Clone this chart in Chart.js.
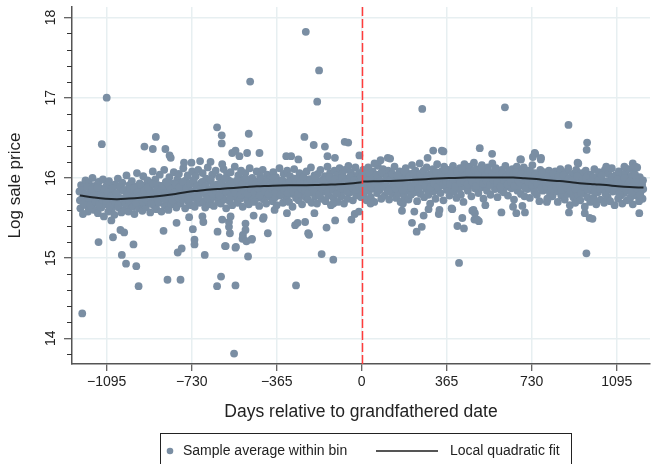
<!DOCTYPE html>
<html>
<head>
<meta charset="utf-8">
<script src="https://cdn.jsdelivr.net/npm/chart.js@4/dist/chart.umd.min.js"></script>
<style>
  html, body { margin: 0; padding: 0; background: #fff; }
  #wrap { width: 654px; height: 464px; }
</style>
</head>
<body>
<div id="wrap"><canvas id="chart" width="654" height="464"></canvas></div>
<script>
// tick labels
const xTicks = [-1095, -730, -365, 0, 365, 730, 1095];
const yTicks = [14, 15, 16, 17, 18];
const yMinorTicks = [13.8, 14.2, 14.4, 14.6, 14.8, 15.2, 15.4, 15.6, 15.8, 16.2, 16.4, 16.6, 16.8, 17.2, 17.4, 17.6, 17.8];

// bin averages before the grandfathered date (days, log price)
const preBinDays = [
  -1212,-1208,-1205,-1201,-1197,-1193,-1190,-1186,-1182,-1178,
  -1175,-1171,-1167,-1163,-1160,-1156,-1152,-1148,-1145,-1141,
  -1137,-1133,-1130,-1126,-1122,-1118,-1115,-1111,-1107,-1103,
  -1100,-1096,-1092,-1088,-1085,-1081,-1077,-1073,-1070,-1066,
  -1062,-1058,-1055,-1051,-1047,-1043,-1040,-1036,-1032,-1028,
  -1025,-1021,-1017,-1013,-1010,-1006,-1002,-998,-995,-991,
  -987,-983,-980,-976,-972,-968,-965,-961,-957,-953,
  -950,-946,-942,-938,-935,-931,-927,-923,-920,-916,
  -912,-908,-905,-901,-897,-893,-890,-886,-882,-878,
  -875,-871,-867,-863,-860,-856,-852,-848,-845,-841,
  -837,-833,-830,-826,-822,-818,-815,-811,-807,-803,
  -800,-796,-792,-788,-785,-781,-777,-773,-770,-766,
  -762,-758,-755,-751,-747,-743,-740,-736,-732,-728,
  -725,-721,-717,-713,-710,-706,-702,-698,-695,-691,
  -687,-683,-680,-676,-672,-668,-665,-661,-657,-653,
  -650,-646,-642,-638,-635,-631,-627,-623,-620,-616,
  -612,-608,-605,-601,-597,-593,-590,-586,-582,-578,
  -575,-571,-567,-563,-560,-556,-552,-548,-545,-541,
  -537,-533,-530,-526,-522,-518,-515,-511,-507,-503,
  -500,-496,-492,-488,-485,-481,-477,-473,-470,-466,
  -462,-458,-455,-451,-447,-443,-440,-436,-432,-428,
  -425,-421,-417,-413,-410,-406,-402,-398,-395,-391,
  -387,-383,-380,-376,-372,-368,-365,-361,-357,-353,
  -350,-346,-342,-338,-335,-331,-327,-323,-320,-316,
  -312,-308,-305,-301,-297,-293,-290,-286,-282,-278,
  -275,-271,-267,-263,-260,-256,-252,-248,-245,-241,
  -237,-233,-230,-226,-222,-218,-215,-211,-207,-203,
  -200,-196,-192,-188,-185,-181,-177,-173,-170,-166,
  -162,-158,-155,-151,-147,-143,-140,-136,-132,-128,
  -125,-121,-117,-113,-110,-106,-102,-98,-95,-91,
  -87,-83,-80,-76,-72,-68,-65,-61,-57,-53,
  -50,-46,-42,-38,-35,-31,-27,-23,-20,-16,
  -12,-8,-5,-2
];
const preBinPrice = [
  15.83,15.62,15.91,15.74,15.55,15.88,15.70,15.97,15.66,15.79,
  15.58,15.93,15.71,15.84,15.64,16.00,15.77,15.60,15.90,15.69,
  15.81,15.56,15.95,15.73,15.87,15.63,15.78,15.98,15.52,15.85,
  15.67,15.90,15.74,15.58,15.96,15.70,15.83,15.61,15.88,15.76,
  15.54,15.92,15.68,15.80,15.99,15.63,15.75,15.87,15.57,15.94,
  15.72,15.60,15.85,15.69,16.03,15.78,15.58,15.91,15.66,15.82,
  15.96,15.64,15.76,15.55,15.89,15.71,16.06,15.80,15.62,15.93,
  15.68,15.84,15.59,16.02,15.75,15.90,15.63,15.79,15.97,15.70,
  15.86,15.57,15.94,15.73,16.08,15.66,15.82,15.98,15.61,15.77,
  15.91,15.69,16.04,15.80,15.58,15.87,15.74,16.10,15.65,15.95,
  15.72,15.88,15.60,16.01,15.79,15.67,15.93,15.84,16.07,15.70,
  15.89,15.63,15.98,15.76,16.05,15.82,15.68,15.94,15.73,16.12,
  15.85,15.62,15.97,15.78,16.03,15.70,15.91,15.83,15.66,16.08,
  15.75,15.95,15.64,16.02,15.87,15.72,16.10,15.80,15.69,15.93,
  15.84,16.06,15.71,15.90,15.63,15.99,15.78,16.13,15.86,15.67,
  15.96,15.74,16.04,15.88,15.65,15.82,16.09,15.77,15.92,15.70,
  16.01,15.85,15.68,15.95,15.79,16.11,15.73,15.89,15.62,16.05,
  15.83,15.97,15.71,16.07,15.88,15.66,15.93,15.80,16.14,15.76,
  15.91,15.69,16.03,15.84,15.74,16.09,15.87,15.64,15.98,15.79,
  16.06,15.82,15.72,15.94,15.67,16.12,15.86,15.77,16.00,15.90,
  15.70,15.96,15.83,16.08,15.75,15.92,15.65,16.02,15.87,15.79,
  16.10,15.73,15.95,15.84,15.68,16.04,15.90,15.77,15.99,15.81,
  15.93,15.71,16.07,15.86,15.76,16.01,15.66,15.92,15.83,16.12,
  15.78,15.97,15.88,15.69,16.05,15.82,15.94,15.74,16.09,15.87,
  15.70,16.02,15.91,15.80,15.64,15.96,16.11,15.85,15.75,15.99,
  15.88,15.72,16.06,15.93,15.79,15.67,16.01,15.84,15.96,15.76,
  16.08,15.89,15.73,15.98,15.82,16.13,15.69,15.92,15.86,16.03,
  15.77,15.95,15.68,16.05,15.87,15.80,16.10,15.74,15.97,15.90,
  15.83,16.02,15.71,15.94,16.14,15.78,15.88,16.06,15.66,15.99,
  15.86,15.75,16.09,15.92,15.81,16.03,15.70,15.96,16.12,15.84,
  15.77,16.05,15.93,15.68,16.10,15.88,15.99,15.74,16.15,15.90,
  15.82,16.07,15.95,15.72,16.02,15.86,16.13,15.78,15.97,15.91,
  16.06,15.84,15.99,15.76
];
// densest part of the band, pre cutoff
const preCoreDays = [
  -1210,-1203,-1195,-1188,-1180,-1173,-1165,-1158,-1150,-1143,
  -1135,-1128,-1120,-1113,-1105,-1098,-1090,-1083,-1075,-1068,
  -1060,-1053,-1045,-1038,-1030,-1023,-1015,-1008,-1000,-993,
  -985,-978,-970,-963,-955,-948,-940,-933,-925,-918,
  -910,-903,-895,-888,-880,-873,-865,-858,-850,-843,
  -835,-828,-820,-813,-805,-798,-790,-783,-775,-768,
  -760,-753,-745,-738,-730,-723,-715,-708,-700,-693,
  -685,-678,-670,-663,-655,-648,-640,-633,-625,-618,
  -610,-603,-595,-588,-580,-573,-565,-558,-550,-543,
  -535,-528,-520,-513,-505,-498,-490,-483,-475,-468,
  -460,-453,-445,-438,-430,-423,-415,-408,-400,-393,
  -385,-378,-370,-363,-355,-348,-340,-333,-325,-318,
  -310,-303,-295,-288,-280,-273,-265,-258,-250,-243,
  -235,-228,-220,-213,-205,-198,-190,-183,-175,-168,
  -160,-153,-145,-138,-130,-123,-115,-108,-100,-93,
  -85,-78,-70,-63,-55,-48,-40,-33,-25,-18,
  -10,-4
];
const preCorePrice = [
  15.72,15.84,15.68,15.80,15.89,15.75,15.66,15.86,15.78,15.70,
  15.88,15.67,15.79,15.73,15.85,15.71,15.82,15.64,15.77,15.87,
  15.70,15.81,15.66,15.89,15.74,15.84,15.68,15.79,15.72,15.86,
  15.75,15.87,15.69,15.82,15.77,15.91,15.70,15.84,15.73,15.88,
  15.80,15.68,15.92,15.76,15.85,15.71,15.83,15.90,15.74,15.81,
  15.94,15.77,15.86,15.72,15.82,15.92,15.76,15.88,15.80,15.95,
  15.78,15.87,15.74,15.93,15.83,15.97,15.79,15.89,15.76,15.86,
  15.95,15.81,15.90,15.75,15.85,15.98,15.80,15.91,15.83,15.88,
  15.78,15.93,15.85,15.99,15.82,15.90,15.76,15.95,15.86,15.81,
  15.97,15.88,15.79,15.92,15.84,15.99,15.80,15.90,15.86,15.95,
  15.82,15.93,15.87,15.78,15.98,15.89,15.83,15.95,15.80,15.91,
  15.86,16.00,15.82,15.94,15.89,15.79,15.97,15.85,15.92,15.81,
  15.96,15.87,15.83,15.99,15.90,15.80,15.94,15.86,16.01,15.84,
  15.93,15.81,15.98,15.88,15.84,16.00,15.91,15.79,15.95,15.86,
  15.97,15.89,15.82,16.01,15.92,15.85,15.98,15.80,15.93,15.88,
  16.00,15.86,15.95,15.83,15.91,16.02,15.88,15.97,15.85,15.93,
  15.89,16.01
];
const preOutDays = [
  -1200,-1095,-1116,-1130,-1068,-1030,-1012,-968,-958,-980,
  -1036,-1020,-1075,-884,-933,-897,-843,-825,-820,-851,
  -834,-778,-790,-773,-718,-718,-674,-763,-731,-694,
  -649,-621,-621,-725,-680,-619,-601,-601,-485,-439,
  -599,-556,-542,-525,-492,-604,-587,-542,-488,-570,
  -566,-510,-510,-499,-471,-684,-741,-795,-599,-563,
  -464,-421,-240,-183,-191,-479,-246,-206,-158,-73,
  -58,-10,-272,-303,-324,-147,-115,-172,-122,-282,
  -542,-548,-584,-540,-512,-495,-473,-230,-226,-403,
  -151,-570,-499,-424,-286,-275,-243,-203,-114,-44,
  -30,-374,-321,-122,-12
];
const preOutPrice = [
  14.31,17.00,16.42,15.20,15.26,15.04,14.93,14.90,14.65,15.17,
  15.35,15.32,15.47,16.51,16.39,16.36,16.36,16.28,16.25,15.34,
  14.73,14.73,15.07,15.12,15.17,15.23,15.04,16.19,16.19,16.21,
  16.20,16.63,14.65,15.36,15.45,15.33,16.53,16.43,16.55,16.31,
  16.17,16.31,16.34,16.27,16.31,14.77,15.15,15.13,15.02,15.39,
  15.31,15.25,15.29,15.43,15.24,15.52,15.51,15.44,15.48,15.52,
  15.53,15.51,17.82,17.34,16.95,17.20,16.51,16.41,16.39,16.45,
  16.44,16.28,16.23,16.27,16.27,16.27,16.25,15.05,14.98,14.66,
  14.66,13.81,15.15,15.14,15.24,15.21,15.23,15.31,15.29,15.31,
  15.38,15.45,15.35,15.49,15.41,15.44,15.45,15.56,15.47,15.48,
  15.55,15.60,15.56,15.68,15.58
];

// bin averages after the grandfathered date
const postBinDays = [
  2,6,9,13,17,21,24,28,32,36,
  39,43,47,51,54,58,62,66,69,73,
  77,81,84,88,92,96,99,103,107,111,
  114,118,122,126,129,133,137,141,144,148,
  152,156,159,163,167,171,174,178,182,186,
  189,193,197,201,204,208,212,216,219,223,
  227,231,234,238,242,246,249,253,257,261,
  264,268,272,276,279,283,287,291,294,298,
  302,306,309,313,317,321,324,328,332,336,
  339,343,347,351,354,358,362,366,369,373,
  377,381,384,388,392,396,399,403,407,411,
  414,418,422,426,429,433,437,441,444,448,
  452,456,459,463,467,471,474,478,482,486,
  489,493,497,501,504,508,512,516,519,523,
  527,531,534,538,542,546,549,553,557,561,
  564,568,572,576,579,583,587,591,594,598,
  602,606,609,613,617,621,624,628,632,636,
  639,643,647,651,654,658,662,666,669,673,
  677,681,684,688,692,696,699,703,707,711,
  714,718,722,726,729,733,737,741,744,748,
  752,756,759,763,767,771,774,778,782,786,
  789,793,797,801,804,808,812,816,819,823,
  827,831,834,838,842,846,849,853,857,861,
  864,868,872,876,879,883,887,891,894,898,
  902,906,909,913,917,921,924,928,932,936,
  939,943,947,951,954,958,962,966,969,973,
  977,981,984,988,992,996,999,1003,1007,1011,
  1014,1018,1022,1026,1029,1033,1037,1041,1044,1048,
  1052,1056,1059,1063,1067,1071,1074,1078,1082,1086,
  1089,1093,1097,1101,1104,1108,1112,1116,1119,1123,
  1127,1131,1134,1138,1142,1146,1149,1153,1157,1161,
  1164,1168,1172,1176,1179,1183,1187,1191,1194,1198,
  1202,1206,1209
];
const postBinPrice = [
  15.88,16.10,15.79,15.97,16.04,15.72,15.93,16.13,15.84,16.01,
  15.76,15.95,16.08,15.87,15.70,16.02,15.91,15.81,16.15,15.98,
  15.85,16.05,15.74,15.94,16.11,15.89,15.78,16.03,15.96,15.83,
  16.09,15.73,15.99,15.88,16.06,15.80,15.93,16.14,15.86,15.75,
  16.01,15.92,15.81,16.08,15.70,15.97,15.88,16.04,15.77,15.95,
  16.12,15.84,15.98,15.73,16.05,15.90,15.79,16.16,15.87,16.00,
  15.82,16.09,15.94,15.71,16.03,15.88,16.18,15.80,15.97,15.91,
  16.07,15.76,16.01,15.86,16.13,15.93,15.79,16.04,15.68,15.98,
  15.89,16.11,15.83,16.02,15.74,15.96,16.17,15.87,16.06,15.92,
  15.81,16.08,15.97,15.72,16.14,15.90,16.03,15.85,15.95,16.10,
  15.78,15.99,16.07,15.88,16.15,15.83,16.02,15.93,15.75,16.09,
  15.96,15.86,16.12,15.79,16.05,15.94,15.70,16.17,15.89,16.01,
  16.08,15.84,15.98,16.14,15.91,15.77,16.04,15.96,16.19,15.87,
  16.02,15.93,16.11,15.81,16.06,15.97,15.88,16.16,16.00,15.74,
  16.09,15.90,16.03,15.84,16.13,15.95,16.06,15.79,15.99,16.18,
  15.92,16.05,15.86,16.12,15.97,15.76,16.08,15.94,16.02,15.85,
  16.10,15.96,15.82,16.04,16.15,15.89,16.00,15.78,16.07,15.93,
  16.03,15.87,16.11,15.95,15.73,16.06,15.91,16.14,15.84,15.99,
  15.90,16.08,15.80,16.01,15.94,16.13,15.77,15.97,16.05,15.86,
  16.09,15.92,15.75,16.02,15.88,16.16,15.96,15.83,16.06,15.91,
  15.79,16.04,15.94,15.71,16.10,15.89,16.00,15.84,16.07,15.96,
  15.86,16.03,15.74,15.97,16.09,15.81,15.93,16.05,15.77,15.99,
  15.90,16.08,15.83,15.96,15.70,16.04,15.87,16.11,15.78,15.94,
  16.02,15.85,15.73,16.07,15.91,15.80,16.12,15.88,15.66,15.98,
  15.83,16.05,15.76,15.95,15.69,16.10,15.87,15.79,16.01,15.92,
  15.72,16.06,15.89,15.81,15.97,15.64,16.09,15.86,15.76,16.03,
  15.91,15.70,16.04,15.84,15.96,15.75,16.11,15.88,15.67,15.99,
  15.82,16.07,15.90,15.73,16.02,15.86,15.95,15.69,16.10,15.80,
  15.93,15.76,16.05,15.87,15.71,15.98,16.12,15.83,15.91,15.66,
  16.03,15.85,15.94,15.74,16.08,15.89,15.78,16.00,15.68,15.92,
  15.81,16.06,15.87,15.72,15.97,16.11,15.84,15.75,16.02,15.90,
  15.67,16.09,15.86,15.96,15.78,16.13,15.88,15.71,16.01,15.83,
  15.93,15.74,15.86
];
// densest part of the band, post cutoff
const postCoreDays = [
  4,11,19,26,34,41,49,56,64,71,
  79,86,94,101,109,116,124,131,139,146,
  154,161,169,176,184,191,199,206,214,221,
  229,236,244,251,259,266,274,281,289,296,
  304,311,319,326,334,341,349,356,364,371,
  379,386,394,401,409,416,424,431,439,446,
  454,461,469,476,484,491,499,506,514,521,
  529,536,544,551,559,566,574,581,589,596,
  604,611,619,626,634,641,649,656,664,671,
  679,686,694,701,709,716,724,731,739,746,
  754,761,769,776,784,791,799,806,814,821,
  829,836,844,851,859,866,874,881,889,896,
  904,911,919,926,934,941,949,956,964,971,
  979,986,994,1001,1009,1016,1024,1031,1039,1046,
  1054,1061,1069,1076,1084,1091,1099,1106,1114,1121,
  1129,1136,1144,1151,1159,1166,1174,1181,1189,1196,
  1204,1208
];
const postCorePrice = [
  15.90,16.02,15.85,15.97,16.06,15.88,15.99,15.93,16.04,15.86,
  15.96,16.07,15.89,15.94,16.01,15.84,15.98,16.05,15.91,15.87,
  16.03,15.92,15.97,15.85,16.08,15.90,15.96,16.02,15.88,16.06,
  15.93,15.99,15.87,16.05,15.95,16.09,15.90,15.98,16.03,15.88,
  16.00,15.93,16.07,15.89,15.97,16.04,15.91,16.10,15.95,16.01,
  15.92,16.06,15.98,15.89,16.08,16.00,15.94,16.11,15.96,16.03,
  15.92,16.07,16.00,15.95,16.10,15.90,16.04,15.97,16.12,15.93,
  16.01,15.96,16.08,15.91,16.05,15.98,16.11,15.94,16.03,15.89,
  16.06,15.97,16.01,15.92,16.09,15.95,16.03,15.90,16.07,15.98,
  15.94,16.05,15.99,15.88,16.03,15.95,16.08,15.91,15.98,16.04,
  15.92,16.00,15.87,16.06,15.95,15.90,16.02,15.93,15.86,16.05,
  15.96,15.89,16.01,15.92,15.85,16.03,15.94,15.88,15.99,15.84,
  15.97,15.90,15.86,16.02,15.93,15.81,15.98,15.89,16.00,15.85,
  15.94,15.88,16.01,15.83,15.92,15.97,15.86,16.03,15.90,15.81,
  15.96,15.87,15.93,16.01,15.84,15.91,15.98,15.80,15.94,15.88,
  16.00,15.85,15.92,15.96,15.82,15.90,16.04,15.87,15.95,15.79,
  15.91,15.97
];
const postOutDays = [
  260,615,307,344,351,283,507,560,112,122,
  81,55,418,216,236,258,411,439,432,484,
  503,475,486,600,664,173,226,266,331,334,
  389,888,968,966,965,681,735,745,770,927,
  1128,1164,1168,701,795,890,958,979,991,1192,
  994,743,684,769,531,480,496,650,690,798,
  177,386,38,1050,1175,930,287
];
const postOutPrice = [
  16.86,16.88,16.34,16.34,16.33,16.25,16.37,16.30,16.25,16.24,
  16.22,16.18,14.94,15.44,15.33,15.39,15.40,15.37,15.50,15.48,
  15.46,15.59,15.56,15.57,15.56,15.59,15.58,15.53,15.55,15.60,
  15.61,16.66,16.44,16.35,15.06,16.23,16.26,16.30,16.25,16.19,
  16.14,16.18,16.13,15.57,15.70,15.57,15.56,15.50,15.49,15.56,
  15.73,16.31,16.23,16.23,15.66,15.60,15.48,15.64,15.65,15.73,
  15.68,15.62,15.68,16.14,16.14,16.18,15.61
];

// local quadratic fit, each side of the cutoff
const fitPreDays = [-1210,-1150,-1100,-1050,-1000,-950,-900,-850,-800,-750,-700,-650,-600,-550,-500,-450,-400,-350,-300,-250,-200,-150,-100,-50,0];
const fitPrePrice = [15.78,15.755,15.74,15.735,15.742,15.752,15.765,15.78,15.80,15.825,15.84,15.855,15.865,15.875,15.885,15.895,15.90,15.905,15.907,15.908,15.91,15.915,15.92,15.93,15.945];
const fitPostDays = [0,50,100,150,200,250,300,350,400,450,500,550,600,650,700,750,800,850,900,950,1000,1050,1100,1150,1210];
const fitPostPrice = [15.955,15.957,15.96,15.965,15.972,15.98,15.988,15.995,16.0,16.004,16.006,16.006,16.005,16.004,15.995,15.985,15.97,15.96,15.945,15.93,15.92,15.91,15.895,15.885,15.88];

const dotColor = '#7a8ea3';
const fitColor = '#1f262c';
const textColor = '#222';
const gridColor = '#e7eff1';
const fontFamily = '"Liberation Sans", Arial, Helvetica, sans-serif';

function pairs(xs, ys) {
  return xs.map((x, i) => ({x: x, y: ys[i]}));
}

const binPoints = pairs(preBinDays, preBinPrice)
  .concat(pairs(preCoreDays, preCorePrice))
  .concat(pairs(preOutDays, preOutPrice))
  .concat(pairs(postBinDays, postBinPrice))
  .concat(pairs(postCoreDays, postCorePrice))
  .concat(pairs(postOutDays, postOutPrice));

/* red dashed cutoff line, minor y ticks and the boxed legend */
const extras = {
  id: 'extras',
  afterDatasetsDraw(chart) {
    const ctx = chart.ctx;
    const area = chart.chartArea;
    const x0 = Math.round(chart.scales.x.getPixelForValue(0)) + 0.5;
    ctx.save();
    ctx.strokeStyle = '#ff3c3c';
    ctx.lineWidth = 1.5;
    ctx.setLineDash([9, 3]);
    ctx.beginPath();
    ctx.moveTo(x0, area.top);
    ctx.lineTo(x0, area.bottom);
    ctx.stroke();
    ctx.restore();
  },
  afterDraw(chart) {
    const ctx = chart.ctx;
    const y = chart.scales.y;
    ctx.save();
    ctx.strokeStyle = '#333';
    ctx.lineWidth = 1;
    ctx.beginPath();
    for (const v of yMinorTicks) {
      const py = Math.round(y.getPixelForValue(v)) + 0.5;
      ctx.moveTo(y.right - 5, py);
      ctx.lineTo(y.right, py);
    }
    ctx.stroke();

    // legend box
    const top = 433.5, left = 160.5, w = 411, mid = 451;
    ctx.strokeStyle = '#222';
    ctx.lineWidth = 1;
    ctx.strokeRect(left, top, w, 60);
    ctx.fillStyle = dotColor;
    ctx.beginPath();
    ctx.arc(170, mid, 3.3, 0, Math.PI * 2);
    ctx.fill();
    ctx.fillStyle = textColor;
    ctx.font = '14px ' + fontFamily;
    ctx.textBaseline = 'middle';
    ctx.textAlign = 'left';
    ctx.fillText('Sample average within bin', 183, mid);
    ctx.strokeStyle = '#555';
    ctx.lineWidth = 2;
    ctx.beginPath();
    ctx.moveTo(376, mid);
    ctx.lineTo(438, mid);
    ctx.stroke();
    ctx.fillText('Local quadratic fit', 450, mid);
    ctx.restore();
  }
};

const chart = new Chart(document.getElementById('chart'), {
  type: 'scatter',
  data: {
    datasets: [
      {
        label: 'Local quadratic fit',
        type: 'line',
        data: pairs(fitPreDays, fitPrePrice),
        borderColor: fitColor,
        borderWidth: 2,
        pointRadius: 0,
        tension: 0.4,
        order: 0
      },
      {
        label: 'Local quadratic fit (post)',
        type: 'line',
        data: pairs(fitPostDays, fitPostPrice),
        borderColor: fitColor,
        borderWidth: 2,
        pointRadius: 0,
        tension: 0.4,
        order: 0
      },
      {
        label: 'Sample average within bin',
        data: binPoints,
        backgroundColor: dotColor,
        borderWidth: 0,
        pointRadius: 3.9,
        order: 1
      }
    ]
  },
  options: {
    responsive: false,
    devicePixelRatio: 1,
    animation: false,
    events: [],
    layout: { padding: { top: 7, left: 0, right: 0, bottom: 0 } },
    plugins: {
      legend: { display: false },
      tooltip: { enabled: false }
    },
    scales: {
      x: {
        type: 'linear',
        min: -1244,
        max: 1238,
        afterBuildTicks: (axis) => { axis.ticks = xTicks.map(v => ({value: v})); },
        afterFit: (axis) => { axis.height = 100; axis.paddingLeft = 0; axis.paddingRight = 0; },
        border: { color: '#555', width: 1.5 },
        grid: { color: gridColor, lineWidth: 1.5, tickLength: 7, tickColor: '#333', tickWidth: 1 },
        ticks: {
          color: textColor,
          font: { family: fontFamily, size: 14 },
          padding: 3,
          maxRotation: 0,
          autoSkip: false,
          callback: (v) => v < 0 ? '\u2212' + Math.abs(v) : String(v)
        },
        title: {
          display: true,
          text: 'Days relative to grandfathered date',
          color: textColor,
          font: { family: fontFamily, size: 17.5 },
          padding: { top: 0, bottom: 41 }
        }
      },
      y: {
        type: 'linear',
        min: 13.68,
        max: 18.13,
        afterBuildTicks: (axis) => { axis.ticks = yTicks.map(v => ({value: v})); },
        afterFit: (axis) => { axis.width = 72; axis.paddingTop = 0; axis.paddingBottom = 0; },
        border: { color: '#555', width: 1.5 },
        grid: { color: gridColor, lineWidth: 1.5, tickLength: 8, tickColor: '#333', tickWidth: 1 },
        ticks: {
          color: textColor,
          font: { family: fontFamily, size: 14 },
          padding: 5,
          minRotation: 90,
          maxRotation: 90,
          crossAlign: 'center',
          autoSkip: false
        },
        title: {
          display: true,
          text: 'Log sale price',
          color: textColor,
          font: { family: fontFamily, size: 17 },
          padding: { top: 5, bottom: 0 }
        }
      }
    }
  },
  plugins: [extras]
});
</script>
</body>
</html>
